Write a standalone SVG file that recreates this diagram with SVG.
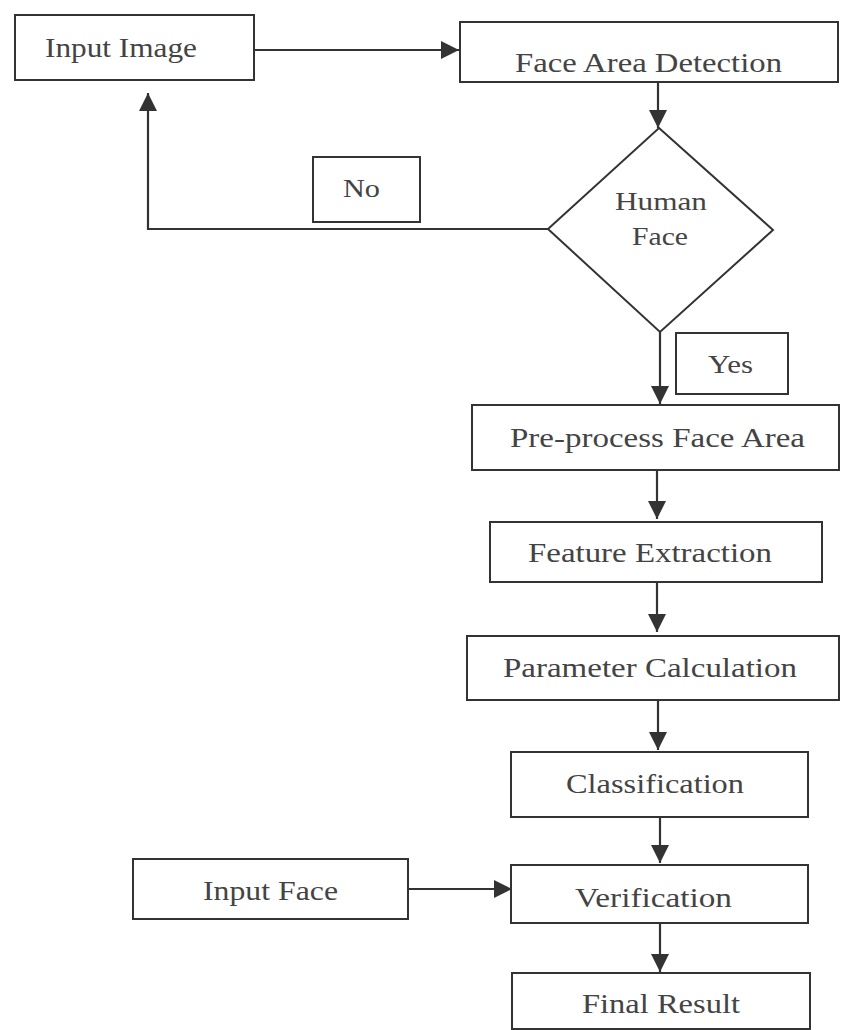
<svg xmlns="http://www.w3.org/2000/svg" width="848" height="1030" viewBox="0 0 848 1030">
<style>
.box{fill:#fff;stroke:#333;stroke-width:2}
.t{font-family:"Liberation Serif","Times New Roman",serif;font-size:28px;fill:#444}
.ts{font-family:"Liberation Serif","Times New Roman",serif;font-size:26px;fill:#444}
.c{fill:none;stroke:#333;stroke-width:2.2}
</style>
<defs>
<marker id="ah" markerUnits="userSpaceOnUse" markerWidth="20" markerHeight="20" viewBox="0 0 20 20" refX="18" refY="10" orient="auto">
<path d="M0,1 L18,10 L0,19 Z" fill="#333"/>
</marker>
</defs>
<rect width="848" height="1030" fill="#fff"/>
<g id="connectors">
<path class="c" d="M254,50 H459" marker-end="url(#ah)"/>
<path class="c" d="M658,82 V128" marker-end="url(#ah)"/>
<path class="c" d="M548,229 H148 V93" marker-end="url(#ah)"/>
<path class="c" d="M660,332 V404" marker-end="url(#ah)"/>
<path class="c" d="M657,470 V519" marker-end="url(#ah)"/>
<path class="c" d="M657,582 V632" marker-end="url(#ah)"/>
<path class="c" d="M658,700 V750" marker-end="url(#ah)"/>
<path class="c" d="M660,817 V863" marker-end="url(#ah)"/>
<path class="c" d="M408,889 H512" marker-end="url(#ah)"/>
<path class="c" d="M660,923 V972" marker-end="url(#ah)"/>
</g>
<g id="input-image">
<rect class="box" x="15" y="15" width="239" height="65"/>
<text class="t" x="45" y="57" textLength="152" lengthAdjust="spacingAndGlyphs">Input Image</text>
</g>
<g id="face-area-detection">
<rect class="box" x="460" y="22" width="378" height="60"/>
<text class="t" x="515" y="72" textLength="267" lengthAdjust="spacingAndGlyphs">Face Area Detection</text>
</g>
<g id="human-face">
<polygon class="box" points="659,128 773,230 660,332 548,229"/>
<text class="ts" x="615" y="210" textLength="92" lengthAdjust="spacingAndGlyphs">Human</text>
<text class="ts" x="632" y="245" textLength="56" lengthAdjust="spacingAndGlyphs">Face</text>
</g>
<g id="no-label">
<rect class="box" x="313" y="157" width="107" height="65"/>
<text class="ts" x="343" y="197" textLength="37" lengthAdjust="spacingAndGlyphs">No</text>
</g>
<g id="yes-label">
<rect class="box" x="676" y="333" width="112" height="61"/>
<text class="ts" x="708" y="373" textLength="45" lengthAdjust="spacingAndGlyphs">Yes</text>
</g>
<g id="pre-process">
<rect class="box" x="472" y="405" width="367" height="65"/>
<text class="t" x="510" y="447" textLength="295" lengthAdjust="spacingAndGlyphs">Pre-process Face Area</text>
</g>
<g id="feature-extraction">
<rect class="box" x="490" y="522" width="332" height="60"/>
<text class="t" x="528" y="562" textLength="244" lengthAdjust="spacingAndGlyphs">Feature Extraction</text>
</g>
<g id="parameter-calculation">
<rect class="box" x="467" y="636" width="372" height="64"/>
<text class="t" x="503" y="677" textLength="294" lengthAdjust="spacingAndGlyphs">Parameter Calculation</text>
</g>
<g id="classification">
<rect class="box" x="511" y="752" width="297" height="65"/>
<text class="t" x="566" y="793" textLength="178" lengthAdjust="spacingAndGlyphs">Classification</text>
</g>
<g id="input-face">
<rect class="box" x="133" y="859" width="275" height="60"/>
<text class="t" x="203" y="900" textLength="135" lengthAdjust="spacingAndGlyphs">Input Face</text>
</g>
<g id="verification">
<rect class="box" x="511" y="865" width="297" height="58"/>
<text class="t" x="575" y="907" textLength="157" lengthAdjust="spacingAndGlyphs">Verification</text>
</g>
<g id="final-result">
<rect class="box" x="512" y="973" width="298" height="56"/>
<text class="t" x="582" y="1013" textLength="158" lengthAdjust="spacingAndGlyphs">Final Result</text>
</g>
</svg>
